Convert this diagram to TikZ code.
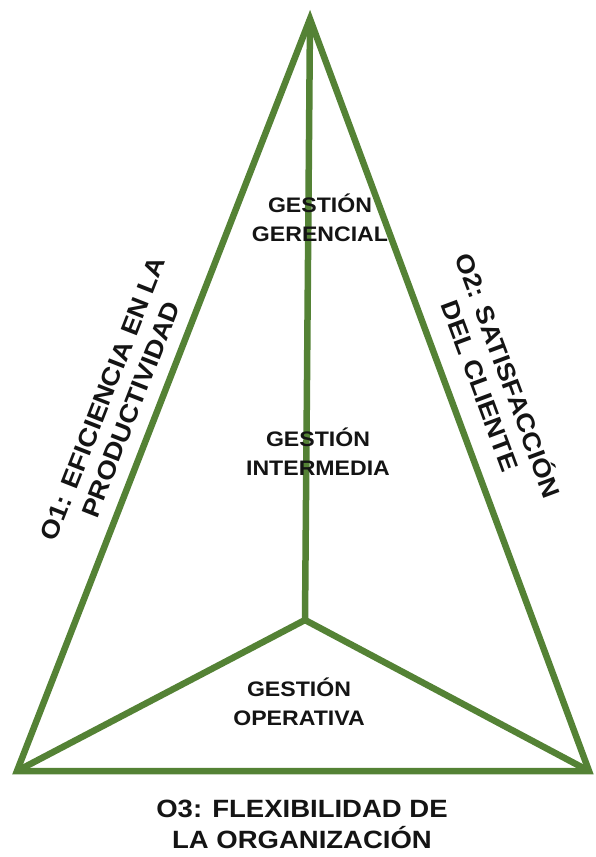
\documentclass[tikz,border=0pt]{standalone}
\usepackage{fontspec}
\newfontfamily\labfont{Liberation Sans}[FakeStretch=1.1]
\definecolor{tri}{RGB}{84,130,53}
\definecolor{ink}{RGB}{20,20,20}
\begin{document}
\begin{tikzpicture}[x=1pt,y=-1pt,
  edge/.style={draw=tri,line width=6.5pt},
  big/.style={font=\labfont\bfseries\fontsize{25}{31}\selectfont, align=center, inner sep=0pt, text=ink},
  side/.style={font=\labfont\bfseries\fontsize{25}{30}\selectfont, align=center, inner sep=0pt, text=ink},
  mid/.style={font=\labfont\bfseries\fontsize{21}{29}\selectfont, align=center, inner sep=0pt, text=ink}]
\useasboundingbox (0,0) rectangle (595,857);
\coordinate (A) at (310,19);
\coordinate (BL) at (17,771);
\coordinate (BR) at (589,771);
\coordinate (C) at (305,620);
\draw[edge] (A) -- (BL) -- (BR) -- cycle;
\draw[edge] (A) -- (C);
\draw[edge] (BL) -- (C) -- (BR);
\node[mid] (ger) at (320,218) {GESTIÓN\\GERENCIAL};
\node[mid] (int) at (318,452) {GESTIÓN\\INTERMEDIA};
\node[mid] (ope) at (299,702) {GESTIÓN\\OPERATIVA};
\node[big] (o3) at (302,824) {O3: FLEXIBILIDAD DE\\LA ORGANIZACIÓN};
\node[side, rotate=68.6] (o1) at (117,404) {O1: EFICIENCIA EN LA\\PRODUCTIVIDAD};
\node[side, rotate=-69.6] (o2) at (496,380) {O2: SATISFACCIÓN\\DEL CLIENTE};
\end{tikzpicture}
\end{document}
